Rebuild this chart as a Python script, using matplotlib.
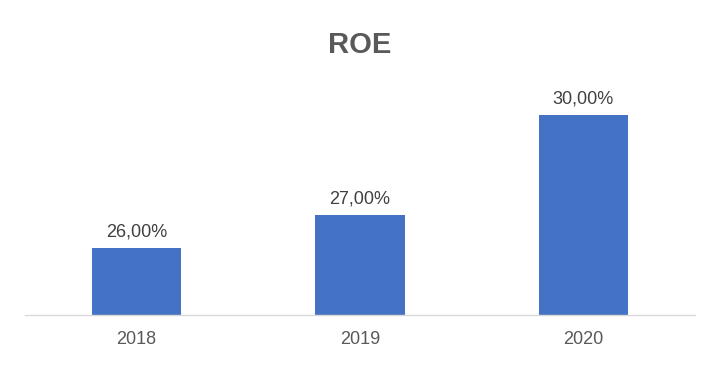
import matplotlib
matplotlib.use("Agg")
import matplotlib.pyplot as plt

categories = ["2018", "2019", "2020"]
values = [26.0, 27.0, 30.0]
labels = ["26,00%", "27,00%", "30,00%"]

plt.rcParams['font.family'] = ['Liberation Sans', 'DejaVu Sans']

fig = plt.figure(figsize=(7.13, 3.66), dpi=100)
ax = fig.add_axes([25/713, 51/366, 670/713, 233/366])

x = list(range(len(categories)))
bars = ax.bar(x, values, width=0.4, color="#4472C4", bottom=0)
ax.set_ylim(24, 31)
ax.set_xlim(-0.5, 2.5)

for xi, v, lab in zip(x, values, labels):
    ax.annotate(lab, (xi, v), xytext=(0, 5.5), textcoords="offset points",
                ha="center", va="bottom", fontsize=13, color="#404040")

ax.set_xticks(x)
ax.set_xticklabels(categories, fontsize=13, color="#595959")
ax.tick_params(axis="x", length=0, pad=11.5)
ax.set_yticks([])
for s in ["top", "right", "left"]:
    ax.spines[s].set_visible(False)
ax.spines["bottom"].set_color("#D9D9D9")
ax.spines["bottom"].set_linewidth(1)

fig.text(360/713, 1 - 45/366, "ROE", ha="center", va="center",
         fontsize=21, fontweight="bold", color="#595959")

fig.savefig("out.png", dpi=100)
